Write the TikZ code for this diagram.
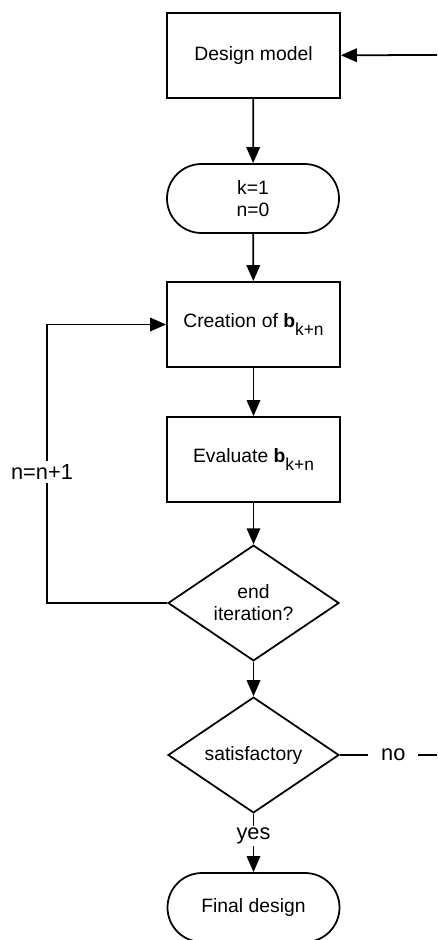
\documentclass[tikz,border=0pt]{standalone}
\usepackage{fontspec}
\setmainfont{Liberation Sans}
\usepackage{tikz}
\usetikzlibrary{arrows.meta,positioning,shapes.geometric}
\newcommand{\bkn}{\textbf{b}\raisebox{-4pt}{\fontsize{9.9}{10}\selectfont k+n}}

\begin{document}
\begin{tikzpicture}[line width=1pt,
    font=\fontsize{11}{12.5}\selectfont,
    box/.style={draw, minimum width=3.46cm, minimum height=1.7cm, align=center},
    term/.style={draw, rounded corners=0.69cm, minimum width=3.44cm,
                 minimum height=1.38cm, align=center},
    decision/.style={draw, diamond, inner sep=0pt, minimum width=3.42cm,
                     minimum height=2.05cm, align=center},
    arr/.style={-{Triangle[length=0.32cm,width=0.27cm]}},
    lbl/.style={fill=white, inner sep=2pt, font=\fontsize{12.4}{14}\selectfont}]
    \clip (0,0) rectangle (8.74,-18.8);
    \node[box] (design) at (5.07,-1.11) {Design model};
    \node[term] (init) at (5.06,-3.97) {k=1\\n=0};
    \node[box] (create) at (5.07,-6.49) {Creation of \bkn};
    \node[box] (eval) at (5.07,-9.19) {Evaluate \bkn};
    \node[decision] (iter) at (5.07,-12.06) {end\\iteration?};
    \node[decision] (sat) at (5.07,-15.1) {satisfactory};
    \node[term] (final) at (5.07,-18.15) {Final design};
    \coordinate (rin) at (8.74,-1.1);
    \coordinate (rout) at (8.74,-15.1);
    \coordinate (loop) at (0.94,-12.06);

    \draw[arr] (rin) -- (design);
    \draw[arr] (design) -- (init);
    \draw[arr] (init) -- (create);
    \draw[arr] (create) -- (eval);
    \draw[arr] (eval) -- (iter);
    \draw[arr] (iter) -- (sat);
    \draw[arr] (iter.west) -- (loop) |- (create.west)
        node[pos=0.236, lbl, xshift=-0.1cm] {n=n+1};
    \draw (sat.east) -- (rout)
        node[pos=0.55, lbl, inner xsep=0.26cm] {no};
    \draw[arr] (sat) -- (final)
        node[pos=0.38, lbl, inner ysep=1pt] {yes};
\end{tikzpicture}
\end{document}
